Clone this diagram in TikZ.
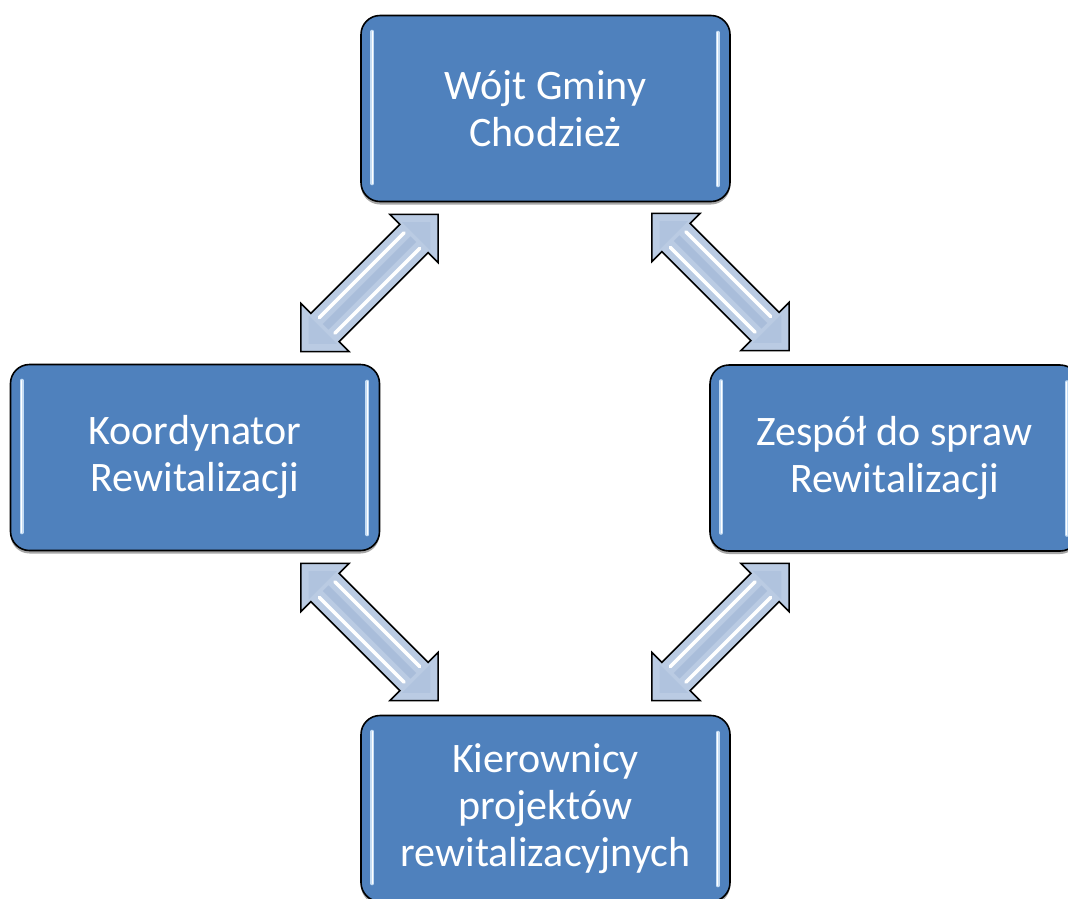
\documentclass[tikz,border=0pt]{standalone}
\usepackage{fontspec}
\setmainfont{Carlito}
\usetikzlibrary{calc,shadows}
\definecolor{boxblue}{HTML}{4F81BD}
\definecolor{boxhl}{HTML}{C4DCF4}
\definecolor{arrfill}{HTML}{BACBE3}
\definecolor{arrmid}{HTML}{A9BDDA}
\newcommand\boxfont{\fontsize{42}{47}\selectfont}
\newcommand\dblarr[3]{%
  \coordinate (#1) at #2;
  \begin{scope}[shift={(#1)}, rotate=#3]
    \draw[arrshape] (97,0) -- (63,34) -- (63,20) -- (-63,20) -- (-63,34) -- (-97,0)
      -- (-63,-34) -- (-63,-20) -- (63,-20) -- (63,-34) -- cycle;
    \fill[arrmid] (-62,4) -- (62,4) -- (62,-4) -- (-62,-4) -- cycle;
    \fill[arrmid!60!arrfill] (-86,0) -- (-66,-20) -- (-66,20) -- cycle;
    \fill[arrmid!60!arrfill] (86,0) -- (66,-20) -- (66,20) -- cycle;
    \draw[stripe] (-60,11) -- (60,11);
    \draw[stripe] (-60,-11) -- (60,-11);
  \end{scope}}
\tikzset{
  box/.style={draw=black, line width=1.6pt, fill=boxblue, rounded corners=19pt,
    minimum width=369pt, minimum height=186pt, inner sep=0pt, text=white,
    align=center, font=\boxfont,
    drop shadow={shadow xshift=0pt, shadow yshift=-3pt, opacity=0.35, fill=black}},
  hl/.style={line width=4pt, color=boxhl, line cap=round},
  hlc/.style={line width=1.3pt, color=white, line cap=round},
  arrshape/.style={draw=black, line width=1.6pt, fill=arrfill, line join=miter},
  stripe/.style={draw=white, line width=3.5pt, line cap=round},
}
\begin{document}
\begin{tikzpicture}[x=1pt, y=-1pt]
\useasboundingbox (0,0) rectangle (1068,898);
\clip (0,0) rectangle (1068,898);
\fill[white] (0,0) rectangle (1068,898);

\node[box] (top) at (545.5,108.5) {Wójt Gminy\\Chodzież};
\node[box] (left) at (195,457.5) {Koordynator\\Rewitalizacji};
\node[box] (right) at (894.5,458) {Zespół do spraw\\Rewitalizacji};
\node[box] (bottom) at (545.5,808.5) {Kierownicy\\projektów\\rewitalizacyjnych};

\foreach \n in {top,left,right,bottom}{
  \draw[hl] ($(\n.north west)+(12,17)$) -- ($(\n.south west)+(12,-19)$);
  \draw[hlc] ($(\n.north west)+(12,17)$) -- ($(\n.south west)+(12,-19)$);
  \draw[hl] ($(\n.north east)+(-13,18)$) -- ($(\n.south east)+(-13,-17)$);
  \draw[hlc] ($(\n.north east)+(-13,18)$) -- ($(\n.south east)+(-13,-17)$);
}

\dblarr{a1}{(369.5,283)}{45}
\dblarr{a2}{(720.5,282)}{-45}
\dblarr{a3}{(369.5,632)}{-45}
\dblarr{a4}{(720.5,632)}{45}
\end{tikzpicture}
\end{document}
